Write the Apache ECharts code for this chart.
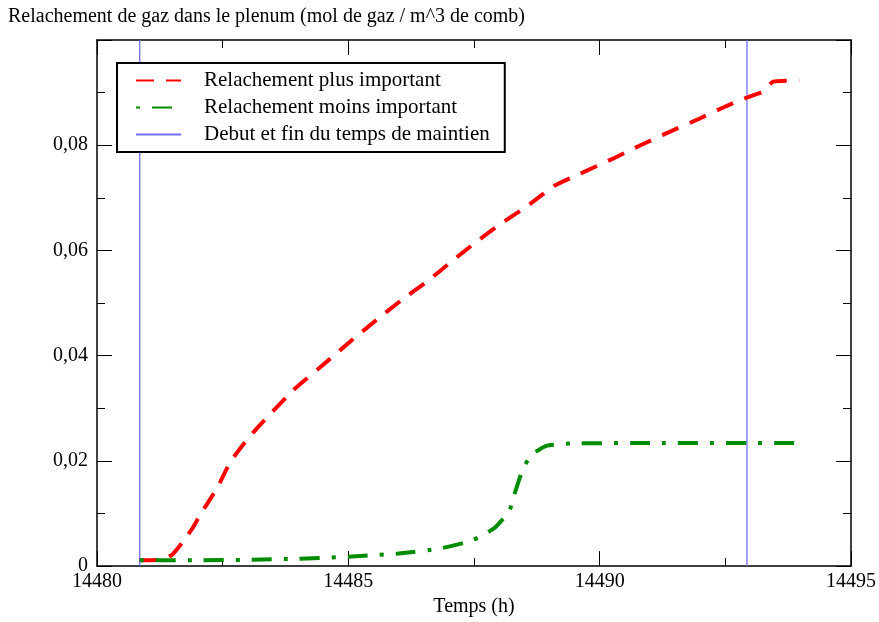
<!DOCTYPE html>
<html>
<head>
<meta charset="utf-8">
<script src="https://cdn.jsdelivr.net/npm/echarts@6/dist/echarts.min.js"></script>
<style>
  html, body { margin: 0; padding: 0; background: #fff; }
  #main { width: 879px; height: 622px; }
</style>
</head>
<body>
<div id="main"></div>
<script>
// courbe rouge : relachement plus important
const timeHigh = [14480.85, 14481.3, 14481.5, 14481.7, 14481.9, 14482.05, 14482.4, 14482.65, 14483.0,
  14483.24, 14483.9, 14484.6, 14485.09, 14485.56, 14486.05, 14486.58, 14487.08, 14487.54, 14488.07,
  14488.57, 14489.1, 14489.66, 14490.23, 14490.79, 14491.38, 14491.95, 14492.51, 14492.91,
  14493.27, 14493.45, 14493.97];
const gasHigh = [0.0011, 0.0012, 0.0022, 0.0045, 0.0072, 0.0097, 0.0150, 0.0198, 0.0242,
  0.0268, 0.0334, 0.0391, 0.0431, 0.0468, 0.0505, 0.0542, 0.0581, 0.0616, 0.0653,
  0.0685, 0.0723, 0.0748, 0.0773, 0.0799, 0.0825, 0.0849, 0.0874, 0.0890,
  0.0903, 0.0921, 0.0923];

// courbe verte : relachement moins important
const timeLow = [14480.85, 14482.0, 14483.0, 14484.0, 14485.0, 14486.0, 14486.8, 14487.47, 14487.9,
  14488.2, 14488.3, 14488.4, 14488.5, 14488.65, 14488.95, 14489.4, 14491.0, 14494.0];
const gasLow = [0.0011, 0.0011, 0.0012, 0.0014, 0.0018, 0.0024, 0.0033, 0.0049, 0.0072,
  0.0104, 0.0135, 0.0165, 0.0190, 0.0212, 0.0229, 0.0233, 0.0234, 0.0234];

// debut et fin du temps de maintien
const holdTimes = [14480.85, 14492.93];
const yRange = [0, 0.1];

const xTicks = [14480, 14485, 14490, 14495];
const yTickLabels = ['0', '0,02', '0,04', '0,06', '0,08'];

const serif = 'Liberation Serif';
const zip = (xs, ys) => xs.map((x, i) => [x, ys[i]]);

const chart = echarts.init(document.getElementById('main'));

const axisCommon = {
  type: 'value',
  axisLine: { show: true, onZero: false, lineStyle: { color: '#000', width: 1.5 } },
  axisTick: { show: true, inside: true, length: 15, lineStyle: { color: '#000', width: 1 } },
  minorTick: { show: true, splitNumber: 2, length: 8, lineStyle: { color: '#000', width: 1 } },
  splitLine: { show: false },
};

const holdSeries = holdTimes.map(t => ({
  name: 'Debut et fin du temps de maintien',
  type: 'line',
  symbol: 'none',
  color: '#6f6fff',
  lineStyle: { color: '#6f6fff', width: 1.3 },
  data: yRange.map(y => [t, y]),
  z: 1,
}));

const option = {
  animation: false,
  backgroundColor: '#fff',
  title: {
    text: 'Relachement de gaz dans le plenum (mol de gaz / m^3 de comb)',
    left: 3,
    top: 2,
    textStyle: { fontFamily: serif, fontSize: 20, fontWeight: 'normal', color: '#000' },
  },
  grid: { left: 97, right: 27, top: 40, bottom: 54 },
  legend: {
    left: 117,
    top: 63,
    orient: 'vertical',
    itemWidth: 45,
    itemHeight: 14,
    itemGap: 6,
    padding: [7, 15, 7, 18],
    borderColor: '#000',
    borderWidth: 2,
    backgroundColor: '#fff',
    itemStyle: { opacity: 0 },
    textStyle: { fontFamily: serif, fontSize: 21, color: '#000', padding: [0, 0, 0, 18] },
    data: ['Relachement plus important', 'Relachement moins important', 'Debut et fin du temps de maintien'],
  },
  xAxis: [
    Object.assign({}, axisCommon, {
      min: xTicks[0], max: xTicks[xTicks.length - 1], interval: 5,
      position: 'bottom',
      axisLabel: { fontFamily: serif, fontSize: 20, color: '#000', margin: 6, formatter: v => String(v) },
      name: 'Temps (h)',
      nameLocation: 'middle',
      nameGap: 27,
      nameTextStyle: { fontFamily: serif, fontSize: 20, color: '#000' },
    }),
    Object.assign({}, axisCommon, {
      min: xTicks[0], max: xTicks[xTicks.length - 1], interval: 5,
      position: 'top',
      axisLabel: { show: false },
    }),
  ],
  yAxis: [
    Object.assign({}, axisCommon, {
      min: yRange[0], max: yRange[1], interval: 0.02,
      position: 'left',
      axisLabel: {
        fontFamily: serif, fontSize: 20, color: '#000', margin: 9,
        formatter: v => yTickLabels[Math.round(v / 0.02)] || '',
      },
    }),
    Object.assign({}, axisCommon, {
      min: yRange[0], max: yRange[1], interval: 0.02,
      position: 'right',
      axisLabel: { show: false },
    }),
  ],
  series: [
    {
      name: 'Relachement plus important',
      type: 'line',
      symbol: 'none',
      smooth: 0.15,
      color: '#ff0000',
      lineStyle: { color: '#ff0000', width: 4, type: [18, 12] },
      data: zip(timeHigh, gasHigh),
      z: 3,
    },
    {
      name: 'Relachement moins important',
      type: 'line',
      symbol: 'none',
      smooth: 0.15,
      color: '#008c00',
      lineStyle: { color: '#008c00', width: 4, type: [4, 12, 20, 12] },
      data: zip(timeLow, gasLow),
      z: 4,
    },
  ].concat(holdSeries),
};

chart.setOption(option);
</script>
</body>
</html>
